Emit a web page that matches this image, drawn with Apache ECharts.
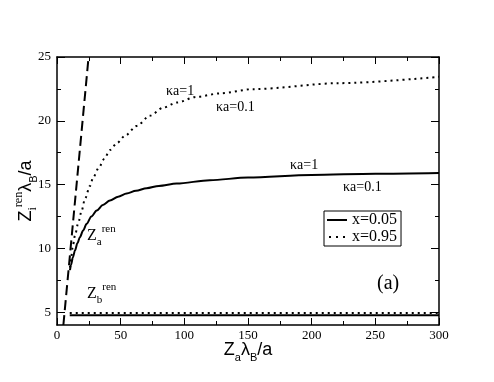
<!DOCTYPE html>
<html>
<head>
<meta charset="utf-8">
<script src="https://cdn.jsdelivr.net/npm/echarts@6/dist/echarts.min.js"></script>
<style>
  html, body { margin: 0; padding: 0; background: #fff; }
  #chart { width: 494px; height: 382px; }
</style>
</head>
<body>
<div id="chart"></div>
<script>
// values
const xTickLabels = [0, 50, 100, 150, 200, 250, 300];
const yTickLabels = [5, 10, 15, 20, 25];
const yMinorTicks = [7.5, 12.5, 17.5, 22.5];

// Z_a^ren, x=0.05 (solid)
const zaLowX = [10.2, 11, 12.5, 14.1, 16, 18, 20.5, 23.3, 27, 31.2, 36, 41.6, 48, 54.7, 62, 70.4, 80, 94, 120, 150, 200, 250, 300];
const zaLowY = [8.3, 8.7, 9.3, 9.84, 10.4, 10.88, 11.4, 11.93, 12.5, 12.97, 13.4, 13.75, 14.05, 14.3, 14.52, 14.72, 14.9, 15.08, 15.35, 15.55, 15.76, 15.86, 15.92];

// Z_a^ren, x=0.95 (dotted)
const zaHighX = [10.2, 11, 12.3, 14.1, 16.8, 19.4, 22, 25.9, 28.5, 33, 37, 41.6, 47, 53.4, 62.6, 73, 83.5, 94, 109.7, 128, 154, 222, 300];
const zaHighY = [8.5, 9.2, 10.1, 11.0, 12.05, 12.97, 13.9, 14.9, 15.6, 16.35, 17.0, 17.71, 18.25, 18.83, 19.6, 20.4, 21.04, 21.43, 21.88, 22.15, 22.48, 22.95, 23.45];

// Z_b^ren
const zbX = [10, 300];
const zbLowY = [4.77, 4.77];
const zbHighY = [4.95, 4.95];

// dashed reference line
const dashX = [5, 24.8];
const dashY = [4, 25];

const pairs = (xs, ys) => xs.map((x, i) => [x, ys[i]]);

const serif = '"Liberation Serif", "DejaVu Serif", serif';
const sans = '"Liberation Sans", Arial, sans-serif';

const nameRich = {
    z: { fontFamily: sans, fontSize: 18, lineHeight: 26, color: '#000' },
    s: { fontFamily: sans, fontSize: 11, lineHeight: 11, verticalAlign: 'bottom', color: '#000' },
    i: { fontFamily: serif, fontSize: 12, lineHeight: 11, verticalAlign: 'bottom', color: '#000' },
    p: { fontFamily: serif, fontSize: 12, lineHeight: 13, verticalAlign: 'top', color: '#000' }
};
const noteRich = {
    z: { fontFamily: serif, fontSize: 16, lineHeight: 24, color: '#000' },
    s: { fontFamily: serif, fontSize: 11, lineHeight: 10, verticalAlign: 'bottom', color: '#000' },
    p: { fontFamily: serif, fontSize: 11, lineHeight: 12, verticalAlign: 'top', color: '#000' }
};

const axisLine = { show: true, lineStyle: { color: '#000', width: 1.5 } };

const chart = echarts.init(document.getElementById('chart'));

const note = (left, top, text, size) => ({
    type: 'text', left: left, top: top,
    style: { text: text, fontFamily: serif, fontSize: size || 14, fill: '#000' }
});
const richNote = (left, top, text) => ({
    type: 'text', left: left, top: top,
    style: { text: text, rich: noteRich, fill: '#000' }
});

const option = {
    animation: false,
    backgroundColor: '#fff',
    grid: { left: 57, right: 55, top: 57, bottom: 57, outerBoundsMode: 'none', containLabel: false },
    legend: {
        left: 324, top: 211,
        orient: 'vertical',
        data: [
            { name: 'x=0.05', icon: 'path://M0,0H20V2H0Z' },
            { name: 'x=0.95', icon: 'path://M1,0h2v2h-2zM8,0h2v2h-2zM15,0h2v2h-2z' }
        ],
        itemWidth: 20, itemHeight: 2, itemGap: 1,
        padding: [1, 4, 1, 3],
        borderColor: '#000', borderWidth: 1,
        textStyle: { fontFamily: serif, fontSize: 16, lineHeight: 15, color: '#000' }
    },
    xAxis: [
        {
            type: 'value', min: 0, max: 300, interval: 50,
            name: '{z|Z}{s|a}{z|λ}{s|B}{z|/a}',
            nameLocation: 'middle', nameGap: 12, nameMoveOverlap: false,
            nameTextStyle: { rich: nameRich },
            axisLine: axisLine,
            axisTick: { inside: true, length: 7, lineStyle: { color: '#000' } },
            minorTick: { show: true, splitNumber: 2, length: 4, lineStyle: { color: '#000' } },
            axisLabel: { fontFamily: serif, fontSize: 13, color: '#000', margin: 4,
                customValues: xTickLabels },
            splitLine: { show: false }
        },
        {
            type: 'value', min: 0, max: 300, interval: 50, position: 'top',
            axisLine: axisLine,
            axisTick: { inside: true, length: 7, lineStyle: { color: '#000' } },
            minorTick: { show: true, splitNumber: 2, length: 4, lineStyle: { color: '#000' } },
            axisLabel: { show: false },
            splitLine: { show: false }
        }
    ],
    yAxis: [
        {
            type: 'value', min: 4, max: 25, position: 'left',
            name: '{z|Z}{i|i}{p|ren}{z|λ}{s|B}{z|/a}',
            nameLocation: 'middle', nameGap: 18, nameRotate: 90, nameMoveOverlap: false,
            nameTextStyle: { rich: nameRich },
            axisLine: axisLine,
            axisTick: { inside: true, length: 8, customValues: yTickLabels, lineStyle: { color: '#000' } },
            axisLabel: { fontFamily: serif, fontSize: 13, color: '#000', margin: 6, customValues: yTickLabels },
            splitLine: { show: false }
        },
        {
            type: 'value', min: 4, max: 25, position: 'left',
            axisLine: { show: false },
            axisTick: { inside: true, length: 4, customValues: yMinorTicks, lineStyle: { color: '#000' } },
            axisLabel: { show: false },
            splitLine: { show: false }
        },
        {
            type: 'value', min: 4, max: 25, position: 'right',
            axisLine: axisLine,
            axisTick: { inside: true, length: 8, customValues: yTickLabels, lineStyle: { color: '#000' } },
            axisLabel: { show: false },
            splitLine: { show: false }
        },
        {
            type: 'value', min: 4, max: 25, position: 'right',
            axisLine: { show: false },
            axisTick: { inside: true, length: 4, customValues: yMinorTicks, lineStyle: { color: '#000' } },
            axisLabel: { show: false },
            splitLine: { show: false }
        }
    ],
    series: [
        {
            name: 'x=0.05', type: 'line', symbol: 'none', smooth: 0.3, smoothMonotone: 'x',
            data: pairs(zaLowX, zaLowY),
            lineStyle: { color: '#000', width: 2, type: 'solid' },
            itemStyle: { color: '#000' }
        },
        {
            name: 'x=0.95', type: 'line', symbol: 'none', smooth: 0.3, smoothMonotone: 'x',
            data: pairs(zaHighX, zaHighY),
            lineStyle: { color: '#000', width: 2, type: [2, 4] },
            itemStyle: { color: '#000' }
        },
        {
            name: 'x=0.05', type: 'line', symbol: 'none',
            data: pairs(zbX, zbLowY),
            lineStyle: { color: '#000', width: 2, type: 'solid' },
            itemStyle: { color: '#000' }
        },
        {
            name: 'x=0.95', type: 'line', symbol: 'none',
            data: pairs(zbX, zbHighY),
            lineStyle: { color: '#000', width: 2, type: [2, 4] },
            itemStyle: { color: '#000' }
        },
        {
            name: 'dashed', type: 'line', symbol: 'none',
            data: pairs(dashX, dashY),
            lineStyle: { color: '#000', width: 2, type: [10, 5] },
            itemStyle: { color: '#000' }
        }
    ],
    graphic: [
        note(166, 84, 'κa=1'),
        note(216, 100, 'κa=0.1'),
        note(290, 158, 'κa=1'),
        note(343, 180, 'κa=0.1'),
        note(377, 274, '(a)', 20),
        richNote(87, 224, '{z|Z}{s|a}{p|ren}'),
        richNote(87, 282, '{z|Z}{s|b}{p|ren}')
    ]
};

chart.setOption(option);
</script>
</body>
</html>
